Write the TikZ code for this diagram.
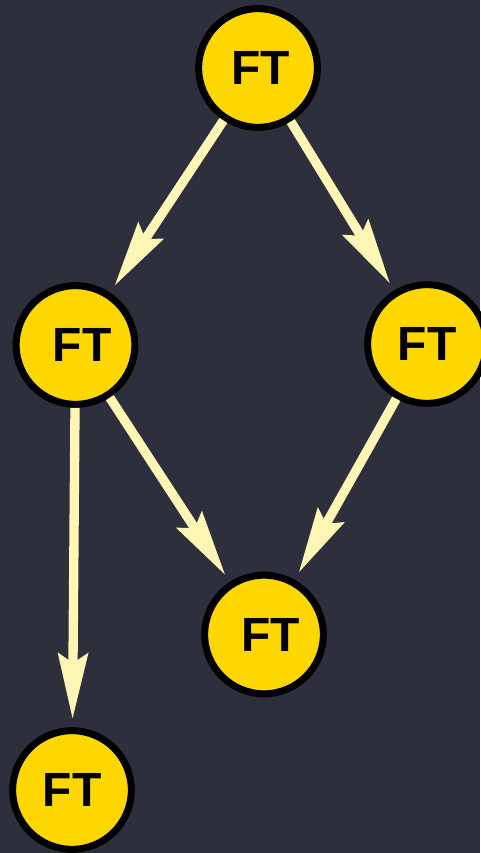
\documentclass[tikz,border=0pt]{standalone}
\usepackage{fontspec}
\setmainfont{Liberation Sans}
\usetikzlibrary{arrows.meta}
\definecolor{bg}{RGB}{46,47,60}
\definecolor{gold}{RGB}{255,215,0}
\definecolor{cream}{RGB}{255,245,180}

\begin{document}
\begin{tikzpicture}[x=0.75pt,y=-0.75pt,
  ft/.style={circle,draw=black,fill=gold,line width=5.25pt,minimum size=89pt,inner sep=0pt,font=\fontsize{36}{40}\selectfont\bfseries},
  arr/.style={-{Stealth[length=49pt,width=22pt,inset=7pt]},draw=cream,line width=7pt,shorten >=6pt}]
  \fill[bg] (0,0) rectangle (480,853);
  \useasboundingbox (0,0) rectangle (480,853);
  \node[ft] (t) at (258,68) {\hspace*{4pt}FT};
  \node[ft] (l) at (75.5,345) {\hspace*{10pt}FT};
  \node[ft] (r) at (427,344) {FT};
  \node[ft] (m) at (264,634.5) {\hspace*{10pt}FT};
  \node[ft] (b) at (72,790) {FT};
  \foreach \s/\t in {t/l,t/r,l/m,l/b,r/m}{\draw[arr] (\s) -- (\t);}
\end{tikzpicture}
\end{document}
